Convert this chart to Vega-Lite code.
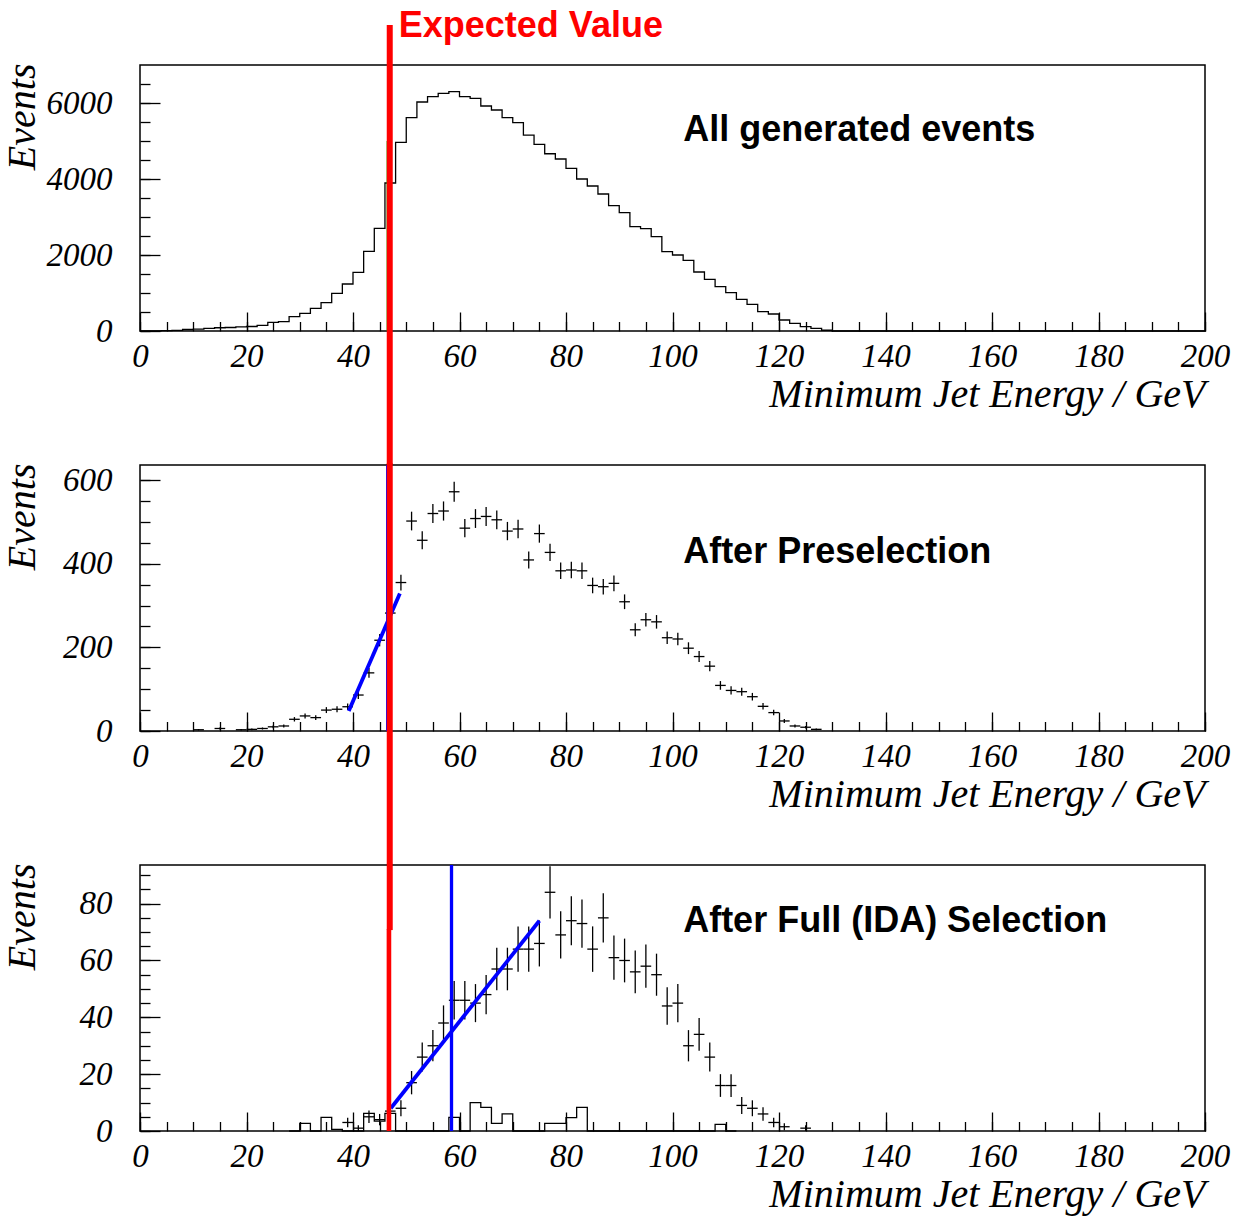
{
  "$schema": "https://vega.github.io/schema/vega-lite/v6.json",
  "background": "white",
  "padding": {"left": 1, "top": 6, "right": 5, "bottom": 5},
  "bounds": "flush",
  "spacing": 134,
  "config": {
    "view": {"stroke": "#000", "strokeWidth": 1.5},
    "axis": {
      "grid": false, "domain": false,
      "labelFont": "Liberation Serif", "labelFontStyle": "italic", "labelFontSize": 33, "labelColor": "#000",
      "titleFont": "Liberation Serif", "titleFontStyle": "italic", "titleFontWeight": "normal", "titleFontSize": 40, "titleColor": "#000",
      "tickColor": "#000", "tickWidth": 1.3,
      "labelFlush": false, "labelOverlap": false, "labelBound": false
    }
  },
  "datasets": {
    "all": [
      {"lo": 0, "n": 0}, {"lo": 2, "n": 3}, {"lo": 4, "n": 8}, {"lo": 6, "n": 15}, {"lo": 8, "n": 40},
      {"lo": 10, "n": 48}, {"lo": 12, "n": 70}, {"lo": 14, "n": 85}, {"lo": 16, "n": 92}, {"lo": 18, "n": 110},
      {"lo": 20, "n": 118}, {"lo": 22, "n": 150}, {"lo": 24, "n": 228}, {"lo": 26, "n": 245}, {"lo": 28, "n": 377},
      {"lo": 30, "n": 465}, {"lo": 32, "n": 596}, {"lo": 34, "n": 746}, {"lo": 36, "n": 991}, {"lo": 38, "n": 1237},
      {"lo": 40, "n": 1544}, {"lo": 42, "n": 2096}, {"lo": 44, "n": 2702}, {"lo": 46, "n": 3895}, {"lo": 48, "n": 4965},
      {"lo": 50, "n": 5614}, {"lo": 52, "n": 6026}, {"lo": 54, "n": 6167}, {"lo": 56, "n": 6254}, {"lo": 58, "n": 6298},
      {"lo": 60, "n": 6167}, {"lo": 62, "n": 6123}, {"lo": 64, "n": 5921}, {"lo": 66, "n": 5816}, {"lo": 68, "n": 5614},
      {"lo": 70, "n": 5482}, {"lo": 72, "n": 5155}, {"lo": 74, "n": 4910}, {"lo": 76, "n": 4665}, {"lo": 78, "n": 4526},
      {"lo": 80, "n": 4281}, {"lo": 82, "n": 4000}, {"lo": 84, "n": 3816}, {"lo": 86, "n": 3605}, {"lo": 88, "n": 3298},
      {"lo": 90, "n": 3114}, {"lo": 92, "n": 2746}, {"lo": 94, "n": 2693}, {"lo": 96, "n": 2482}, {"lo": 98, "n": 2088},
      {"lo": 100, "n": 2000}, {"lo": 102, "n": 1860}, {"lo": 104, "n": 1553}, {"lo": 106, "n": 1360}, {"lo": 108, "n": 1167},
      {"lo": 110, "n": 1009}, {"lo": 112, "n": 833}, {"lo": 114, "n": 702}, {"lo": 116, "n": 509}, {"lo": 118, "n": 447},
      {"lo": 120, "n": 289}, {"lo": 122, "n": 202}, {"lo": 124, "n": 114}, {"lo": 126, "n": 70}, {"lo": 128, "n": 20},
      {"lo": 130, "n": 0}, {"lo": 200, "n": 0}
    ],
    "presel": [
      {"lo": 10, "c": 11, "hi": 12, "n": 3, "e": 1.7},
      {"lo": 14, "c": 15, "hi": 16, "n": 6, "e": 2.4},
      {"lo": 18, "c": 19, "hi": 20, "n": 3, "e": 1.7},
      {"lo": 20, "c": 21, "hi": 22, "n": 4, "e": 2},
      {"lo": 22, "c": 23, "hi": 24, "n": 6, "e": 2.4},
      {"lo": 24, "c": 25, "hi": 26, "n": 10, "e": 3.2},
      {"lo": 26, "c": 27, "hi": 28, "n": 12, "e": 3.5},
      {"lo": 28, "c": 29, "hi": 30, "n": 28, "e": 5.3},
      {"lo": 30, "c": 31, "hi": 32, "n": 36, "e": 6},
      {"lo": 32, "c": 33, "hi": 34, "n": 32, "e": 5.7},
      {"lo": 34, "c": 35, "hi": 36, "n": 50, "e": 7.1},
      {"lo": 36, "c": 37, "hi": 38, "n": 52, "e": 7.2},
      {"lo": 38, "c": 39, "hi": 40, "n": 58, "e": 7.6},
      {"lo": 40, "c": 41, "hi": 42, "n": 86, "e": 9.3},
      {"lo": 42, "c": 43, "hi": 44, "n": 139, "e": 11.8},
      {"lo": 44, "c": 45, "hi": 46, "n": 217, "e": 14.7},
      {"lo": 46, "c": 47, "hi": 48, "n": 282, "e": 16.8},
      {"lo": 48, "c": 49, "hi": 50, "n": 355, "e": 18.8},
      {"lo": 50, "c": 51, "hi": 52, "n": 502, "e": 22.4},
      {"lo": 52, "c": 53, "hi": 54, "n": 456, "e": 21.4},
      {"lo": 54, "c": 55, "hi": 56, "n": 520, "e": 22.8},
      {"lo": 56, "c": 57, "hi": 58, "n": 526, "e": 22.9},
      {"lo": 58, "c": 59, "hi": 60, "n": 572, "e": 23.9},
      {"lo": 60, "c": 61, "hi": 62, "n": 485, "e": 22},
      {"lo": 62, "c": 63, "hi": 64, "n": 508, "e": 22.5},
      {"lo": 64, "c": 65, "hi": 66, "n": 513, "e": 22.6},
      {"lo": 66, "c": 67, "hi": 68, "n": 505, "e": 22.5},
      {"lo": 68, "c": 69, "hi": 70, "n": 478, "e": 21.9},
      {"lo": 70, "c": 71, "hi": 72, "n": 483, "e": 22},
      {"lo": 72, "c": 73, "hi": 74, "n": 409, "e": 20.2},
      {"lo": 74, "c": 75, "hi": 76, "n": 472, "e": 21.7},
      {"lo": 76, "c": 77, "hi": 78, "n": 427, "e": 20.7},
      {"lo": 78, "c": 79, "hi": 80, "n": 383, "e": 19.6},
      {"lo": 80, "c": 81, "hi": 82, "n": 385, "e": 19.6},
      {"lo": 82, "c": 83, "hi": 84, "n": 383, "e": 19.6},
      {"lo": 84, "c": 85, "hi": 86, "n": 348, "e": 18.7},
      {"lo": 86, "c": 87, "hi": 88, "n": 345, "e": 18.6},
      {"lo": 88, "c": 89, "hi": 90, "n": 353, "e": 18.8},
      {"lo": 90, "c": 91, "hi": 92, "n": 309, "e": 17.6},
      {"lo": 92, "c": 93, "hi": 94, "n": 242, "e": 15.6},
      {"lo": 94, "c": 95, "hi": 96, "n": 266, "e": 16.3},
      {"lo": 96, "c": 97, "hi": 98, "n": 261, "e": 16.2},
      {"lo": 98, "c": 99, "hi": 100, "n": 223, "e": 14.9},
      {"lo": 100, "c": 101, "hi": 102, "n": 220, "e": 14.8},
      {"lo": 102, "c": 103, "hi": 104, "n": 198, "e": 14.1},
      {"lo": 104, "c": 105, "hi": 106, "n": 178, "e": 13.3},
      {"lo": 106, "c": 107, "hi": 108, "n": 155, "e": 12.4},
      {"lo": 108, "c": 109, "hi": 110, "n": 109, "e": 10.4},
      {"lo": 110, "c": 111, "hi": 112, "n": 97, "e": 9.8},
      {"lo": 112, "c": 113, "hi": 114, "n": 94, "e": 9.7},
      {"lo": 114, "c": 115, "hi": 116, "n": 82, "e": 9.1},
      {"lo": 116, "c": 117, "hi": 118, "n": 59, "e": 7.7},
      {"lo": 118, "c": 119, "hi": 120, "n": 44, "e": 6.6},
      {"lo": 120, "c": 121, "hi": 122, "n": 24, "e": 4.9},
      {"lo": 122, "c": 123, "hi": 124, "n": 12, "e": 3.5},
      {"lo": 124, "c": 125, "hi": 126, "n": 9, "e": 3},
      {"lo": 126, "c": 127, "hi": 128, "n": 4, "e": 2}
    ],
    "full": [
      {"lo": 38, "c": 39, "hi": 40, "n": 3, "e": 1.7},
      {"lo": 40, "c": 41, "hi": 42, "n": 1, "e": 1},
      {"lo": 42, "c": 43, "hi": 44, "n": 5, "e": 2.2},
      {"lo": 44, "c": 45, "hi": 46, "n": 4, "e": 2},
      {"lo": 46, "c": 47, "hi": 48, "n": 7, "e": 2.6},
      {"lo": 48, "c": 49, "hi": 50, "n": 8, "e": 2.8},
      {"lo": 50, "c": 51, "hi": 52, "n": 17, "e": 4.1},
      {"lo": 52, "c": 53, "hi": 54, "n": 26, "e": 5.1},
      {"lo": 54, "c": 55, "hi": 56, "n": 30, "e": 5.5},
      {"lo": 56, "c": 57, "hi": 58, "n": 38, "e": 6.2},
      {"lo": 58, "c": 59, "hi": 60, "n": 46, "e": 6.8},
      {"lo": 60, "c": 61, "hi": 62, "n": 46, "e": 6.8},
      {"lo": 62, "c": 63, "hi": 64, "n": 45, "e": 6.7},
      {"lo": 64, "c": 65, "hi": 66, "n": 48, "e": 6.9},
      {"lo": 66, "c": 67, "hi": 68, "n": 57, "e": 7.5},
      {"lo": 68, "c": 69, "hi": 70, "n": 57, "e": 7.5},
      {"lo": 70, "c": 71, "hi": 72, "n": 64, "e": 8},
      {"lo": 72, "c": 73, "hi": 74, "n": 64, "e": 8},
      {"lo": 74, "c": 75, "hi": 76, "n": 66, "e": 8.1},
      {"lo": 76, "c": 77, "hi": 78, "n": 84, "e": 9.2},
      {"lo": 78, "c": 79, "hi": 80, "n": 69, "e": 8.3},
      {"lo": 80, "c": 81, "hi": 82, "n": 74, "e": 8.6},
      {"lo": 82, "c": 83, "hi": 84, "n": 73, "e": 8.5},
      {"lo": 84, "c": 85, "hi": 86, "n": 64, "e": 8},
      {"lo": 86, "c": 87, "hi": 88, "n": 75, "e": 8.7},
      {"lo": 88, "c": 89, "hi": 90, "n": 61, "e": 7.8},
      {"lo": 90, "c": 91, "hi": 92, "n": 60, "e": 7.7},
      {"lo": 92, "c": 93, "hi": 94, "n": 56, "e": 7.5},
      {"lo": 94, "c": 95, "hi": 96, "n": 58, "e": 7.6},
      {"lo": 96, "c": 97, "hi": 98, "n": 55, "e": 7.4},
      {"lo": 98, "c": 99, "hi": 100, "n": 44, "e": 6.6},
      {"lo": 100, "c": 101, "hi": 102, "n": 45, "e": 6.7},
      {"lo": 102, "c": 103, "hi": 104, "n": 30, "e": 5.5},
      {"lo": 104, "c": 105, "hi": 106, "n": 34, "e": 5.8},
      {"lo": 106, "c": 107, "hi": 108, "n": 26, "e": 5.1},
      {"lo": 108, "c": 109, "hi": 110, "n": 16, "e": 4},
      {"lo": 110, "c": 111, "hi": 112, "n": 16, "e": 4},
      {"lo": 112, "c": 113, "hi": 114, "n": 9, "e": 3},
      {"lo": 114, "c": 115, "hi": 116, "n": 8, "e": 2.8},
      {"lo": 116, "c": 117, "hi": 118, "n": 6, "e": 2.4},
      {"lo": 118, "c": 119, "hi": 120, "n": 3, "e": 1.7},
      {"lo": 120, "c": 121, "hi": 122, "n": 1.5, "e": 1.2},
      {"lo": 124, "c": 125, "hi": 126, "n": 1, "e": 1}
    ],
    "background": [
      {"lo": 28, "n": 0}, {"lo": 30, "n": 2.7}, {"lo": 32, "n": 0}, {"lo": 34, "n": 4.8}, {"lo": 36, "n": 0.6},
      {"lo": 38, "n": 0}, {"lo": 40, "n": 0}, {"lo": 42, "n": 6.2}, {"lo": 44, "n": 3.5}, {"lo": 46, "n": 6.2},
      {"lo": 48, "n": 0}, {"lo": 50, "n": 0}, {"lo": 52, "n": 0}, {"lo": 54, "n": 0}, {"lo": 56, "n": 0},
      {"lo": 58, "n": 4.8}, {"lo": 60, "n": 0}, {"lo": 62, "n": 10}, {"lo": 64, "n": 8.3}, {"lo": 66, "n": 2.7},
      {"lo": 68, "n": 6}, {"lo": 70, "n": 0}, {"lo": 72, "n": 0}, {"lo": 74, "n": 0}, {"lo": 76, "n": 2.7},
      {"lo": 78, "n": 2.7}, {"lo": 80, "n": 4.7}, {"lo": 82, "n": 8.3}, {"lo": 84, "n": 0}, {"lo": 86, "n": 0},
      {"lo": 88, "n": 0}, {"lo": 90, "n": 0}, {"lo": 92, "n": 0}, {"lo": 94, "n": 0}, {"lo": 96, "n": 0},
      {"lo": 98, "n": 0}, {"lo": 100, "n": 0}, {"lo": 102, "n": 0}, {"lo": 104, "n": 0}, {"lo": 106, "n": 0},
      {"lo": 108, "n": 2.3}, {"lo": 110, "n": 0}, {"lo": 112, "n": 0}
    ]
  },
  "vconcat": [
    {
      "width": 1065, "height": 266,
      "resolve": {"axis": {"x": "independent", "y": "independent"}},
      "layer": [
        {
          "data": {"name": "all"},
          "mark": {"type": "line", "interpolate": "step-after", "color": "#000", "strokeWidth": 1.3},
          "encoding": {
            "x": {"field": "lo", "type": "quantitative", "scale": {"domain": [0, 200], "nice": false, "zero": false},
                  "axis": {"orient": "bottom", "values": [0, 20, 40, 60, 80, 100, 120, 140, 160, 180, 200], "format": "d", "ticks": false, "labelPadding": 9,
                           "title": "Minimum Jet Energy / GeV", "titleAnchor": "end", "titleAlign": "right", "titleBaseline": "alphabetic", "titleX": 1065, "titleY": 75}},
            "y": {"field": "n", "type": "quantitative", "scale": {"domain": [0, 7000], "nice": false},
                  "axis": {"orient": "left", "values": [0, 2000, 4000, 6000], "format": "d", "ticks": false, "labelPadding": 28,
                           "title": "Events", "titleAngle": -90, "titleAlign": "right", "titleBaseline": "alphabetic", "titleX": -106, "titleY": -2}}
          }
        },
        {
          "data": {"values": [{"x": 46.4, "y": 0, "y2": 5000}]},
          "mark": {"type": "rule", "color": "#00c000", "strokeWidth": 1},
          "encoding": {
            "x": {"field": "x", "type": "quantitative", "scale": {"domain": [0, 200], "nice": false, "zero": false}, "axis": null},
            "y": {"field": "y", "type": "quantitative", "scale": {"domain": [0, 7000], "nice": false}, "axis": null},
            "y2": {"field": "y2"}
          }
        },
        {
          "data": {"values": [{"x": 46.9, "y": 8050, "y2": -3530}]},
          "mark": {"type": "rule", "color": "#ff0000", "strokeWidth": 6},
          "encoding": {
            "x": {"field": "x", "type": "quantitative", "scale": {"domain": [0, 200], "nice": false, "zero": false},
                  "axis": {"orient": "bottom", "values": [0, 20, 40, 60, 80, 100, 120, 140, 160, 180, 200], "labels": false, "tickSize": -19, "title": null}},
            "y": {"field": "y", "type": "quantitative", "scale": {"domain": [0, 7000], "nice": false},
                  "axis": {"orient": "left", "values": [0, 2000, 4000, 6000], "labels": false, "tickSize": -20, "title": null}},
            "y2": {"field": "y2"}
          }
        },
        {
          "data": {"values": [{"x": 102, "y": 5000, "t": "All generated events"}]},
          "mark": {"type": "text", "font": "Liberation Sans", "fontWeight": "bold", "fontSize": 36, "align": "left", "baseline": "alphabetic", "color": "#000"},
          "encoding": {
            "x": {"field": "x", "type": "quantitative", "scale": {"domain": [0, 200], "nice": false, "zero": false},
                  "axis": {"orient": "bottom", "values": [0, 5, 10, 15, 20, 25, 30, 35, 40, 45, 50, 55, 60, 65, 70, 75, 80, 85, 90, 95, 100, 105, 110, 115, 120, 125, 130, 135, 140, 145, 150, 155, 160, 165, 170, 175, 180, 185, 190, 195, 200], "labels": false, "tickSize": -9.5, "title": null}},
            "y": {"field": "y", "type": "quantitative", "scale": {"domain": [0, 7000], "nice": false},
                  "axis": {"orient": "left", "values": [0, 500, 1000, 1500, 2000, 2500, 3000, 3500, 4000, 4500, 5000, 5500, 6000, 6500], "labels": false, "tickSize": -10, "title": null}},
            "text": {"field": "t"}
          }
        },
        {
          "data": {"values": [{"x": 48.6, "y": 7745, "t": "Expected Value"}]},
          "mark": {"type": "text", "font": "Liberation Sans", "fontWeight": "bold", "fontSize": 36, "align": "left", "baseline": "alphabetic", "color": "#ff0000"},
          "encoding": {
            "x": {"field": "x", "type": "quantitative", "scale": {"domain": [0, 200], "nice": false, "zero": false}, "axis": null},
            "y": {"field": "y", "type": "quantitative", "scale": {"domain": [0, 7000], "nice": false}, "axis": null},
            "text": {"field": "t"}
          }
        }
      ]
    },
    {
      "width": 1065, "height": 266,
      "resolve": {"axis": {"x": "independent", "y": "independent"}},
      "layer": [
        {
          "data": {"name": "presel"},
          "mark": {"type": "rule", "color": "#000", "strokeWidth": 1.3},
          "encoding": {
            "x": {"field": "lo", "type": "quantitative", "scale": {"domain": [0, 200], "nice": false, "zero": false},
                  "axis": {"orient": "bottom", "values": [0, 20, 40, 60, 80, 100, 120, 140, 160, 180, 200], "format": "d", "ticks": false, "labelPadding": 9,
                           "title": "Minimum Jet Energy / GeV", "titleAnchor": "end", "titleAlign": "right", "titleBaseline": "alphabetic", "titleX": 1065, "titleY": 75}},
            "x2": {"field": "hi"},
            "y": {"field": "n", "type": "quantitative", "scale": {"domain": [0, 636], "nice": false},
                  "axis": {"orient": "left", "values": [0, 200, 400, 600], "format": "d", "ticks": false, "labelPadding": 28,
                           "title": "Events", "titleAngle": -90, "titleAlign": "right", "titleBaseline": "alphabetic", "titleX": -106, "titleY": -2}}
          }
        },
        {
          "data": {"name": "presel"},
          "mark": {"type": "errorbar", "color": "#000", "thickness": 1.3},
          "encoding": {
            "x": {"field": "c", "type": "quantitative", "scale": {"domain": [0, 200], "nice": false, "zero": false}, "axis": null},
            "y": {"field": "n", "type": "quantitative", "scale": {"domain": [0, 636], "nice": false}, "axis": null},
            "yError": {"field": "e"}
          }
        },
        {
          "data": {"values": [{"x": 46.3}]},
          "mark": {"type": "rule", "color": "#0000ff", "strokeWidth": 1},
          "encoding": {
            "x": {"field": "x", "type": "quantitative", "scale": {"domain": [0, 200], "nice": false, "zero": false}, "axis": null}
          }
        },
        {
          "data": {"values": [{"x": 39.2, "y": 47.6}, {"x": 48.8, "y": 328.6}]},
          "mark": {"type": "line", "color": "#0000ff", "strokeWidth": 3.8},
          "encoding": {
            "x": {"field": "x", "type": "quantitative", "scale": {"domain": [0, 200], "nice": false, "zero": false}, "axis": null},
            "y": {"field": "y", "type": "quantitative", "scale": {"domain": [0, 636], "nice": false}, "axis": null}
          }
        },
        {
          "data": {"values": [{"x": 46.9, "y": 640, "y2": -322}]},
          "mark": {"type": "rule", "color": "#ff0000", "strokeWidth": 6},
          "encoding": {
            "x": {"field": "x", "type": "quantitative", "scale": {"domain": [0, 200], "nice": false, "zero": false},
                  "axis": {"orient": "bottom", "values": [0, 20, 40, 60, 80, 100, 120, 140, 160, 180, 200], "labels": false, "tickSize": -19, "title": null}},
            "y": {"field": "y", "type": "quantitative", "scale": {"domain": [0, 636], "nice": false},
                  "axis": {"orient": "left", "values": [0, 200, 400, 600], "labels": false, "tickSize": -20, "title": null}},
            "y2": {"field": "y2"}
          }
        },
        {
          "data": {"values": [{"x": 102, "y": 402, "t": "After Preselection"}]},
          "mark": {"type": "text", "font": "Liberation Sans", "fontWeight": "bold", "fontSize": 36, "align": "left", "baseline": "alphabetic", "color": "#000"},
          "encoding": {
            "x": {"field": "x", "type": "quantitative", "scale": {"domain": [0, 200], "nice": false, "zero": false},
                  "axis": {"orient": "bottom", "values": [0, 5, 10, 15, 20, 25, 30, 35, 40, 45, 50, 55, 60, 65, 70, 75, 80, 85, 90, 95, 100, 105, 110, 115, 120, 125, 130, 135, 140, 145, 150, 155, 160, 165, 170, 175, 180, 185, 190, 195, 200], "labels": false, "tickSize": -9.5, "title": null}},
            "y": {"field": "y", "type": "quantitative", "scale": {"domain": [0, 636], "nice": false},
                  "axis": {"orient": "left", "values": [0, 50, 100, 150, 200, 250, 300, 350, 400, 450, 500, 550, 600], "labels": false, "tickSize": -10, "title": null}},
            "text": {"field": "t"}
          }
        }
      ]
    },
    {
      "width": 1065, "height": 266,
      "resolve": {"axis": {"x": "independent", "y": "independent"}},
      "layer": [
        {
          "data": {"name": "background"},
          "mark": {"type": "line", "interpolate": "step-after", "color": "#000", "strokeWidth": 1.3},
          "encoding": {
            "x": {"field": "lo", "type": "quantitative", "scale": {"domain": [0, 200], "nice": false, "zero": false},
                  "axis": {"orient": "bottom", "values": [0, 20, 40, 60, 80, 100, 120, 140, 160, 180, 200], "format": "d", "ticks": false, "labelPadding": 9,
                           "title": "Minimum Jet Energy / GeV", "titleAnchor": "end", "titleAlign": "right", "titleBaseline": "alphabetic", "titleX": 1065, "titleY": 75}},
            "y": {"field": "n", "type": "quantitative", "scale": {"domain": [0, 93.6], "nice": false},
                  "axis": {"orient": "left", "values": [0, 20, 40, 60, 80], "format": "d", "ticks": false, "labelPadding": 28,
                           "title": "Events", "titleAngle": -90, "titleAlign": "right", "titleBaseline": "alphabetic", "titleX": -106, "titleY": -2}}
          }
        },
        {
          "data": {"name": "full"},
          "mark": {"type": "rule", "color": "#000", "strokeWidth": 1.3},
          "encoding": {
            "x": {"field": "lo", "type": "quantitative", "scale": {"domain": [0, 200], "nice": false, "zero": false}, "axis": null},
            "x2": {"field": "hi"},
            "y": {"field": "n", "type": "quantitative", "scale": {"domain": [0, 93.6], "nice": false}, "axis": null}
          }
        },
        {
          "data": {"name": "full"},
          "mark": {"type": "errorbar", "color": "#000", "thickness": 1.3},
          "encoding": {
            "x": {"field": "c", "type": "quantitative", "scale": {"domain": [0, 200], "nice": false, "zero": false}, "axis": null},
            "y": {"field": "n", "type": "quantitative", "scale": {"domain": [0, 93.6], "nice": false}, "axis": null},
            "yError": {"field": "e"}
          }
        },
        {
          "data": {"values": [{"x": 58.5}]},
          "mark": {"type": "rule", "color": "#0000ff", "strokeWidth": 3.3},
          "encoding": {
            "x": {"field": "x", "type": "quantitative", "scale": {"domain": [0, 200], "nice": false, "zero": false}, "axis": null}
          }
        },
        {
          "data": {"values": [{"x": 47.1, "y": 8.0}, {"x": 75.0, "y": 74.0}]},
          "mark": {"type": "line", "color": "#0000ff", "strokeWidth": 3.8},
          "encoding": {
            "x": {"field": "x", "type": "quantitative", "scale": {"domain": [0, 200], "nice": false, "zero": false}, "axis": null},
            "y": {"field": "y", "type": "quantitative", "scale": {"domain": [0, 93.6], "nice": false}, "axis": null}
          }
        },
        {
          "data": {"values": [{"x": 46.9, "y": 94, "y2": 70.7}]},
          "mark": {"type": "rule", "color": "#ff0000", "strokeWidth": 6},
          "encoding": {
            "x": {"field": "x", "type": "quantitative", "scale": {"domain": [0, 200], "nice": false, "zero": false},
                  "axis": {"orient": "bottom", "values": [0, 20, 40, 60, 80, 100, 120, 140, 160, 180, 200], "labels": false, "tickSize": -19, "title": null}},
            "y": {"field": "y", "type": "quantitative", "scale": {"domain": [0, 93.6], "nice": false},
                  "axis": {"orient": "left", "values": [0, 20, 40, 60, 80], "labels": false, "tickSize": -20, "title": null}},
            "y2": {"field": "y2"}
          }
        },
        {
          "data": {"values": [{"x": 46.75, "y": 71, "y2": 0}]},
          "mark": {"type": "rule", "color": "#ff0000", "strokeWidth": 4.6},
          "encoding": {
            "x": {"field": "x", "type": "quantitative", "scale": {"domain": [0, 200], "nice": false, "zero": false}, "axis": null},
            "y": {"field": "y", "type": "quantitative", "scale": {"domain": [0, 93.6], "nice": false}, "axis": null},
            "y2": {"field": "y2"}
          }
        },
        {
          "data": {"values": [{"x": 102, "y": 70, "t": "After Full (IDA) Selection"}]},
          "mark": {"type": "text", "font": "Liberation Sans", "fontWeight": "bold", "fontSize": 36, "align": "left", "baseline": "alphabetic", "color": "#000"},
          "encoding": {
            "x": {"field": "x", "type": "quantitative", "scale": {"domain": [0, 200], "nice": false, "zero": false},
                  "axis": {"orient": "bottom", "values": [0, 5, 10, 15, 20, 25, 30, 35, 40, 45, 50, 55, 60, 65, 70, 75, 80, 85, 90, 95, 100, 105, 110, 115, 120, 125, 130, 135, 140, 145, 150, 155, 160, 165, 170, 175, 180, 185, 190, 195, 200], "labels": false, "tickSize": -9.5, "title": null}},
            "y": {"field": "y", "type": "quantitative", "scale": {"domain": [0, 93.6], "nice": false},
                  "axis": {"orient": "left", "values": [0, 5, 10, 15, 20, 25, 30, 35, 40, 45, 50, 55, 60, 65, 70, 75, 80, 85, 90], "labels": false, "tickSize": -10, "title": null}},
            "text": {"field": "t"}
          }
        }
      ]
    }
  ]
}
